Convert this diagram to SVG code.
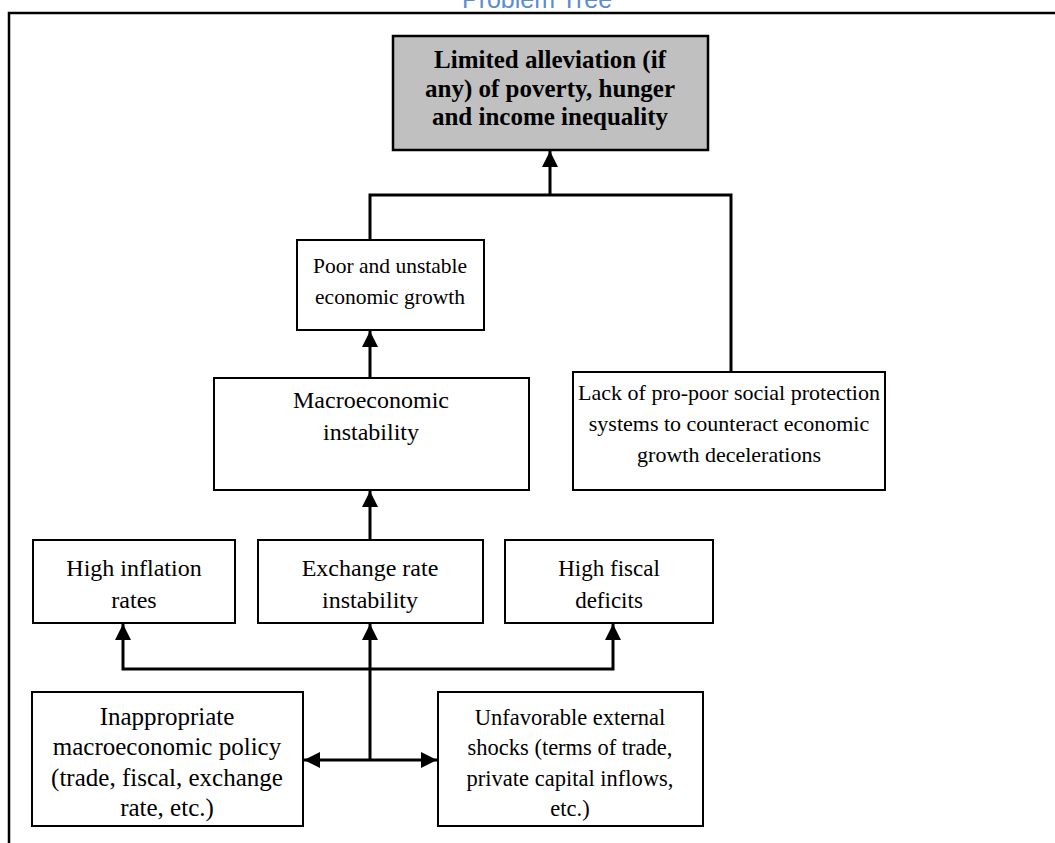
<svg xmlns="http://www.w3.org/2000/svg" width="1055" height="843" viewBox="0 0 1055 843">
<style>
.box{fill:#fff;stroke:#000;stroke-width:2}
.top{fill:#c0c0c0;stroke:#000;stroke-width:2.5}
.t{font-family:"Liberation Serif","Times New Roman",serif;font-size:24px;fill:#000;text-anchor:middle}
.tb{font-family:"Liberation Serif","Times New Roman",serif;font-size:25px;font-weight:bold;fill:#000;text-anchor:middle}
.c{fill:none;stroke:#000;stroke-width:3}
</style>
<defs>
<marker id="ah" markerUnits="userSpaceOnUse" markerWidth="18" markerHeight="18" viewBox="0 0 18 18" refX="16" refY="9" orient="auto-start-reverse">
<path d="M0,1 L16,9 L0,17 Z" fill="#000"/>
</marker>
</defs>
<rect width="1055" height="843" fill="#fff"/>
<text x="537" y="8" font-family="Liberation Sans,Arial,sans-serif" font-size="25" fill="#5b8dd0" text-anchor="middle">Problem Tree</text>
<path d="M9,843 V13 H1055" fill="none" stroke="#000" stroke-width="2.5"/>
<g id="connectors">
<path class="c" d="M550,195 V151" marker-end="url(#ah)"/>
<path class="c" d="M370,240 V195 H731 V372"/>
<path class="c" d="M370,378 V331" marker-end="url(#ah)"/>
<path class="c" d="M370,540 V491" marker-end="url(#ah)"/>
<path class="c" d="M370,760 V624" marker-end="url(#ah)"/>
<path class="c" d="M370,669 H123 V624" marker-end="url(#ah)"/>
<path class="c" d="M370,669 H613 V624" marker-end="url(#ah)"/>
<path class="c" d="M370,760 H304" marker-end="url(#ah)"/>
<path class="c" d="M370,760 H437" marker-end="url(#ah)"/>
</g>
<g id="n-top"><rect class="top" x="393" y="36" width="315" height="114"/>
<text class="tb" x="550" y="68">Limited alleviation (if</text>
<text class="tb" x="550" y="97">any) of poverty, hunger</text>
<text class="tb" x="550" y="125">and income inequality</text></g>
<g id="n-poor"><rect class="box" x="297" y="240" width="187" height="90"/>
<text class="t" x="390" y="273" font-size="21.5" style="font-size:21.5px">Poor and unstable</text>
<text class="t" x="390" y="304" style="font-size:21.5px">economic growth</text></g>
<g id="n-macro"><rect class="box" x="214" y="378" width="315" height="112"/>
<text class="t" x="371" y="408">Macroeconomic</text>
<text class="t" x="371" y="440">instability</text></g>
<g id="n-lack"><rect class="box" x="573" y="372" width="312" height="118"/>
<text class="t" x="729" y="400" style="font-size:22px">Lack of pro-poor social protection</text>
<text class="t" x="729" y="431" style="font-size:22px">systems to counteract economic</text>
<text class="t" x="729" y="462" style="font-size:22px">growth decelerations</text></g>
<g id="n-infl"><rect class="box" x="33" y="540" width="202" height="83"/>
<text class="t" x="134" y="576">High inflation</text>
<text class="t" x="134" y="608">rates</text></g>
<g id="n-exch"><rect class="box" x="258" y="540" width="225" height="83"/>
<text class="t" x="370" y="576">Exchange rate</text>
<text class="t" x="370" y="608">instability</text></g>
<g id="n-fisc"><rect class="box" x="505" y="540" width="208" height="83"/>
<text class="t" x="609" y="576" style="font-size:23px">High fiscal</text>
<text class="t" x="609" y="608" style="font-size:23px">deficits</text></g>
<g id="n-policy"><rect class="box" x="32" y="692" width="271" height="134"/>
<text class="t" x="167" y="725" style="font-size:25px">Inappropriate</text>
<text class="t" x="167" y="755" style="font-size:25px">macroeconomic policy</text>
<text class="t" x="167" y="786" style="font-size:25px">(trade, fiscal, exchange</text>
<text class="t" x="167" y="816" style="font-size:25px">rate, etc.)</text></g>
<g id="n-shocks"><rect class="box" x="438" y="692" width="265" height="134"/>
<text class="t" x="570" y="725" style="font-size:22.5px">Unfavorable external</text>
<text class="t" x="570" y="755" style="font-size:22.5px">shocks (terms of trade,</text>
<text class="t" x="570" y="786" style="font-size:22.5px">private capital inflows,</text>
<text class="t" x="570" y="816" style="font-size:22.5px">etc.)</text></g>
</svg>
